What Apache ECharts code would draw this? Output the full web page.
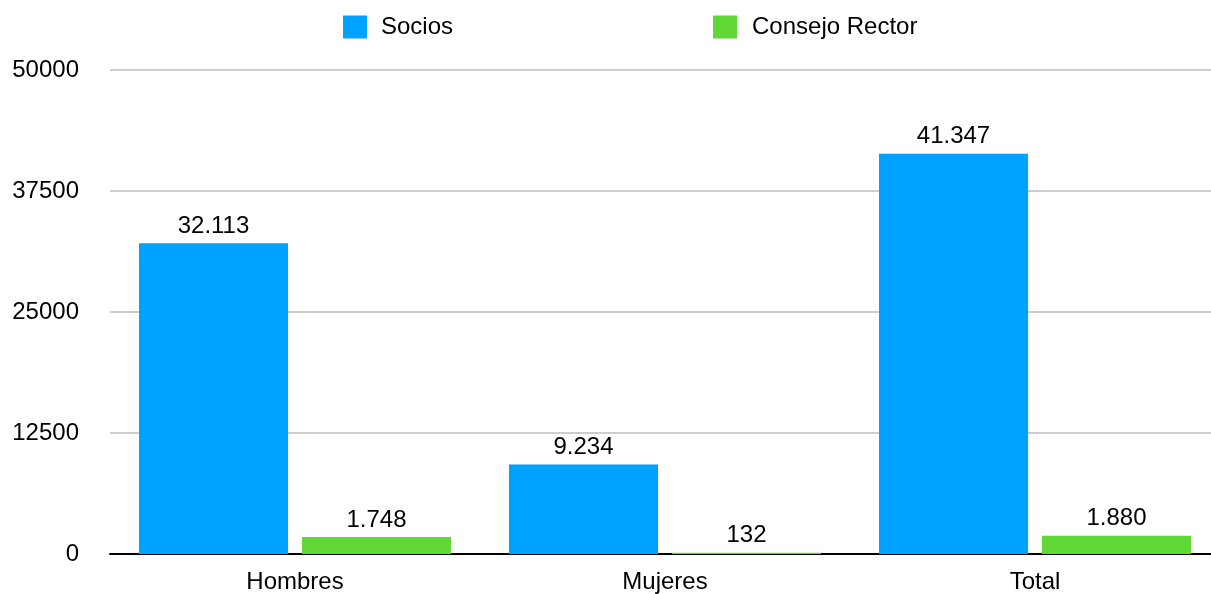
<!DOCTYPE html>
<html>
<head>
<meta charset="utf-8">
<script src="https://cdn.jsdelivr.net/npm/echarts@6/dist/echarts.min.js"></script>
<style>html,body{margin:0;padding:0;background:#fff;overflow:hidden;}
#wrap{width:1211px;height:594px;overflow:hidden;position:relative;}
#c{width:1220px;height:594px;position:absolute;left:0;top:0;}</style>
</head>
<body>
<div id="wrap"><div id="c"></div></div>
<script>
var categories = ['Hombres', 'Mujeres', 'Total'];
var socios = [32113, 9234, 41347];
var consejo = [1748, 132, 1880];
var yTicks = [0, 12500, 25000, 37500, 50000];

function fmt(v) {
  return String(v).replace(/\B(?=(\d{3})+(?!\d))/g, '.');
}
var FONT = 'Liberation Sans';
var FS = 24;
var chart = echarts.init(document.getElementById('c'), null, {renderer: 'canvas'});
chart.setOption({
  animation: false,
  textStyle: {fontFamily: FONT},
  legend: [
    {data: ['Socios'], left: 343, top: 15, padding: 0, itemWidth: 24, itemHeight: 23, itemGap: 0,
     textStyle: {fontSize: FS, color: '#000', fontFamily: FONT, padding: [0, 0, 0, 9]}, icon: 'rect'},
    {data: ['Consejo Rector'], left: 713, top: 15, padding: 0, itemWidth: 24, itemHeight: 23, itemGap: 0,
     textStyle: {fontSize: FS, color: '#000', fontFamily: FONT, padding: [0, 0, 0, 10]}, icon: 'rect'}
  ],
  grid: {left: 110, top: 70, right: 0, bottom: 38, containLabel: false},
  xAxis: {type: 'category', data: categories,
    axisLine: {lineStyle: {color: '#000', width: 2}}, axisTick: {show: false},
    axisLabel: {fontSize: FS, color: '#000', fontFamily: FONT, margin: 16}},
  yAxis: {type: 'value', min: 0, max: 50000, interval: 12500,
    axisLine: {show: false}, axisTick: {show: false},
    splitLine: {show: true, lineStyle: {color: '#bcbcbc', width: 1.6}},
    axisLabel: {fontSize: FS, color: '#000', fontFamily: FONT, margin: 31,
      formatter: function (v) { return yTicks.indexOf(v) >= 0 ? String(v) : ''; }}},
  series: [
    {name: 'Socios', type: 'bar', data: socios,
     barWidth: 149, barGap: '9.4%', itemStyle: {color: '#00A2FF'},
     label: {show: true, position: 'top', distance: 5, fontSize: FS, color: '#000', fontFamily: FONT,
       formatter: function (p) { return fmt(p.value); }}},
    {name: 'Consejo Rector', type: 'bar', data: consejo,
     barWidth: 149, barGap: '9.4%', itemStyle: {color: '#61D836'},
     label: {show: true, position: 'top', distance: 5, fontSize: FS, color: '#000', fontFamily: FONT,
       formatter: function (p) { return fmt(p.value); }}}
  ]
});
</script>
</body>
</html>
